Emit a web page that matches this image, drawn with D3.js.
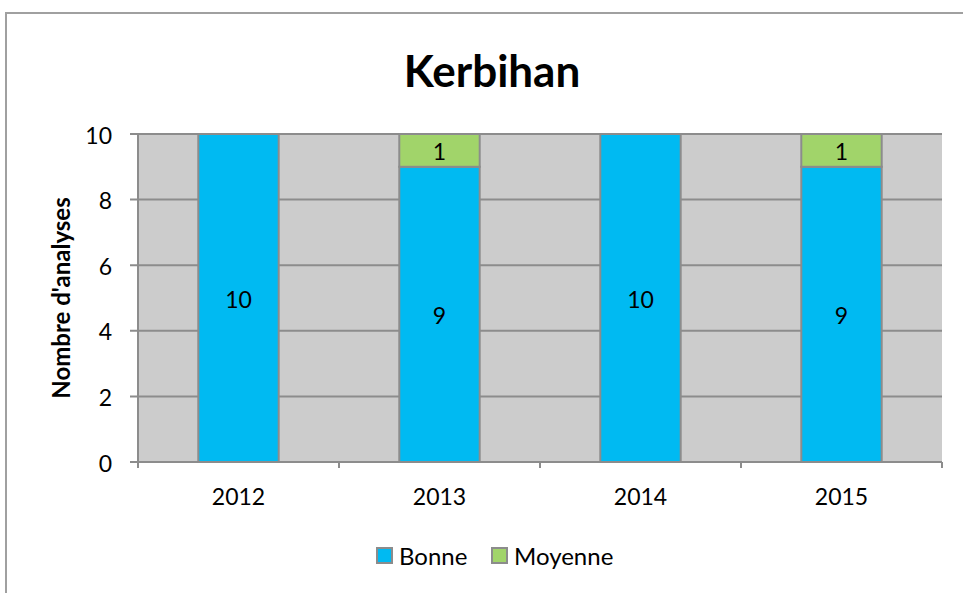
<!DOCTYPE html>
<html>
<head>
<meta charset="utf-8">
<script src="https://cdn.jsdelivr.net/npm/d3@7"></script>
<style>
  body { margin: 0; background: #fff; }
  svg text { font-family: Lato, "Open Sans", sans-serif; fill: #000; }
</style>
</head>
<body>
<div id="chart"></div>
<script>
/**
 * DATA
 **/
const years = ["2012", "2013", "2014", "2015"];
const seriesNames = ["Bonne", "Moyenne"];
const bonne = [10, 9, 10, 9];
const moyenne = [0, 1, 0, 1];
const yTicks = [0, 2, 4, 6, 8, 10];
const colors = ["#00BAF2", "#A1D46A"];

const width = 963, height = 593,
  margin = { top: 134, right: 21, bottom: 131, left: 138 };

const rows = years.map((y, i) => ({ year: y, Bonne: bonne[i], Moyenne: moyenne[i] }));
const stacked = d3.stack().keys(seriesNames)(rows);

const svg = d3.select("#chart").append("svg")
  .attr("width", width).attr("height", height);

// chart border
svg.append("rect")
  .attr("x", 6).attr("y", 13)
  .attr("width", width + 10).attr("height", height + 10)
  .attr("fill", "#fff").attr("stroke", "#a0a0a0").attr("stroke-width", 2);

const x = d3.scaleBand()
  .domain(years)
  .range([margin.left, width - margin.right])
  .paddingInner(0.6).paddingOuter(0.3);

const y = d3.scaleLinear()
  .domain([0, 10])
  .range([height - margin.bottom, margin.top]);

// plot background
svg.append("rect")
  .attr("x", margin.left).attr("y", margin.top)
  .attr("width", width - margin.right - margin.left)
  .attr("height", y(0) - y(10))
  .attr("fill", "#cccccc");

// gridlines
svg.append("g")
  .selectAll("line")
  .data(yTicks)
  .join("line")
  .attr("x1", margin.left - 8).attr("x2", width - margin.right)
  .attr("y1", d => y(d)).attr("y2", d => y(d))
  .attr("stroke", "#8c8c8c").attr("stroke-width", 2);

// y axis line
svg.append("line")
  .attr("x1", margin.left).attr("x2", margin.left)
  .attr("y1", y(10)).attr("y2", y(0) + 6)
  .attr("stroke", "#8c8c8c").attr("stroke-width", 2);

// x category boundary ticks
const step = x.step();
const bounds = d3.range(years.length + 1).map(i => margin.left + i * step);
svg.append("g")
  .selectAll("line")
  .data(bounds)
  .join("line")
  .attr("x1", d => d).attr("x2", d => d)
  .attr("y1", y(0)).attr("y2", y(0) + 6)
  .attr("stroke", "#8c8c8c").attr("stroke-width", 2);

// y tick labels
svg.append("g")
  .selectAll("text")
  .data(yTicks)
  .join("text")
  .attr("x", margin.left - 26)
  .attr("y", d => y(d))
  .attr("dy", "0.42em")
  .attr("text-anchor", "end")
  .style("font-size", "23px")
  .text(d => d);

// x labels
svg.append("g")
  .selectAll("text")
  .data(years)
  .join("text")
  .attr("x", d => x(d) + x.bandwidth() / 2)
  .attr("y", y(0) + 43)
  .attr("text-anchor", "middle")
  .style("font-size", "23px")
  .text(d => d);

// bars
const layer = svg.append("g")
  .selectAll("g")
  .data(stacked)
  .join("g")
  .attr("fill", (d, i) => colors[i]);

layer.selectAll("rect")
  .data(d => d.filter(s => s[1] - s[0] > 0))
  .join("rect")
  .attr("x", d => x(d.data.year))
  .attr("y", d => y(d[1]))
  .attr("width", x.bandwidth())
  .attr("height", d => y(d[0]) - y(d[1]))
  .attr("stroke", "#8c8c8c").attr("stroke-width", 2);

// data labels
layer.selectAll("text")
  .data(d => d.filter(s => s[1] - s[0] > 0))
  .join("text")
  .attr("x", d => x(d.data.year) + x.bandwidth() / 2)
  .attr("y", d => (y(d[0]) + y(d[1])) / 2)
  .attr("dy", "0.42em")
  .attr("text-anchor", "middle")
  .style("font-size", "23px")
  .text(d => d[1] - d[0]);

// title
svg.append("text")
  .attr("x", 492).attr("y", 87)
  .attr("text-anchor", "middle")
  .style("font-size", "44px").style("font-weight", "bold")
  .text("Kerbihan");

// y axis title
svg.append("text")
  .attr("transform", `translate(70,${(y(0) + y(10)) / 2}) rotate(-90)`)
  .attr("text-anchor", "middle")
  .style("font-size", "24px").style("font-weight", "bold")
  .text("Nombre d'analyses");

// legend
const legend = svg.append("g")
  .selectAll("g")
  .data(seriesNames)
  .join("g")
  .attr("transform", (d, i) => `translate(${[377, 492][i]},548)`);

legend.append("rect")
  .attr("width", 15).attr("height", 15)
  .attr("fill", (d, i) => colors[i])
  .attr("stroke", "#8c8c8c").attr("stroke-width", 2);

legend.append("text")
  .attr("x", 22).attr("y", 9).attr("dy", "0.35em")
  .style("font-size", "24px")
  .text(d => d);
</script>
</body>
</html>
